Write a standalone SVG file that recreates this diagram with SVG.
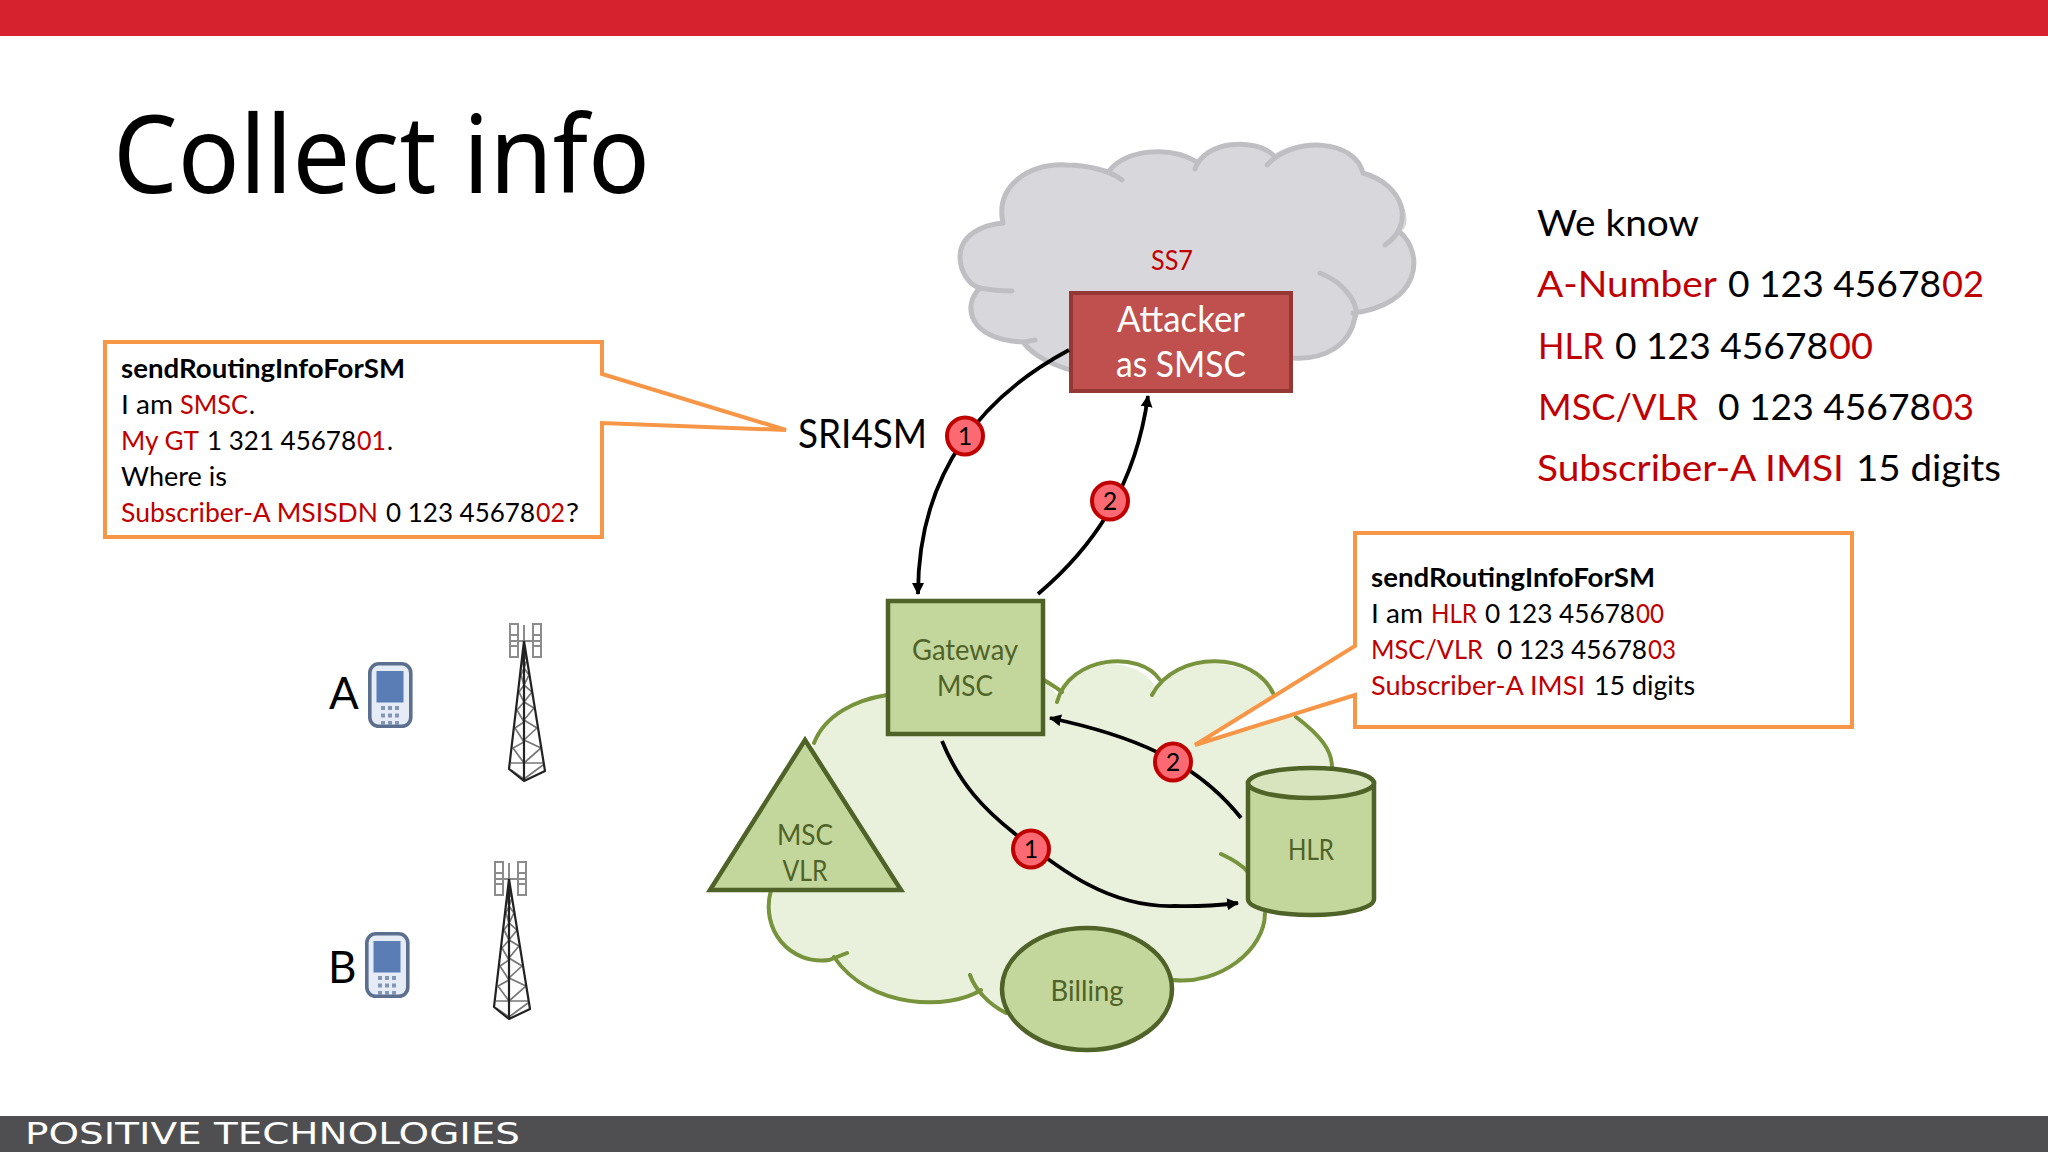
<svg xmlns="http://www.w3.org/2000/svg" xmlns:xlink="http://www.w3.org/1999/xlink" width="2048" height="1152" viewBox="0 0 2048 1152">
<style>
text{font-family:"Lato","Open Sans",sans-serif;fill:#000;white-space:pre}
.r{fill:#c00000}
.box{font-size:26.500px}
.know{font-size:37.500px}
.g{font-size:29px;fill:#4f6228;text-anchor:middle}
.glob{fill:#e9f0dc;stroke:none}
.gl{fill:none;stroke:#77933c;stroke-width:4;stroke-linecap:round}
.grl{fill:none;stroke:#bfbfc3;stroke-width:5;stroke-linecap:round}
.shape{fill:#c3d69b;stroke:#4f6228;stroke-width:4.500}
.top{fill:#d7e4bd;stroke:#4f6228;stroke-width:4.500}
.call{fill:#fff;stroke:#f79646;stroke-width:4;stroke-linejoin:miter}
.a{fill:none;stroke:#000;stroke-width:3.800}
.bd{fill:#fb6a72;stroke:#c00000;stroke-width:4}
.bt{font-size:25px;text-anchor:middle}
.tl{fill:none;stroke:#222;stroke-width:2.200;stroke-linejoin:round}
.tg{fill:none;stroke:#777;stroke-width:1.700}
.ant{fill:none;stroke:#8c8c8c;stroke-width:2}
</style>
<defs>
<marker id="ah" markerUnits="userSpaceOnUse" markerWidth="14" markerHeight="14" refX="11" refY="6" orient="auto"><path d="M0 0L12 6L0 12Z" fill="#000"/></marker>
<g id="phone">
<rect x="1.800" y="1.800" width="41" height="62.500" rx="9" fill="#e5ecf6" stroke="#5d6f8e" stroke-width="3.600"/>
<rect x="8.500" y="9" width="27" height="31.500" fill="#5b7db5"/>
<g fill="#8496b8"><rect x="13" y="44" width="4" height="4"/><rect x="20" y="44" width="4" height="4"/><rect x="27" y="44" width="4" height="4"/><rect x="13" y="51.500" width="4" height="4"/><rect x="20" y="51.500" width="4" height="4"/><rect x="27" y="51.500" width="4" height="4"/><rect x="13" y="59" width="4" height="4"/><rect x="20" y="59" width="4" height="4"/><rect x="27" y="59" width="4" height="4"/></g>
</g>
<g id="tower">
<path class="ant" d="M510 624h8v33h-8zM510 635h8M510 646h8M533 624h8v33h-8zM533 635h8M533 646h8M510 641h31M524 625v16"/>
<path class="tg" d="M524 655L527 660L524 668L529 675L524 685L532 692L524 702L534 708L524 720L537 728L524 740L541 748L524 763H543M524 779L543 765M522 660L524 668L521 675L524 685L519 692L524 702L517 710L524 722L515 728L524 742L513 748L524 763H511M511 770L524 779"/>
<path class="tl" d="M524 641L509 769L524 781L545 771L524 641M524 641V781"/>
</g>
</defs>
<rect width="2048" height="1152" fill="#fff"/>
<rect id="top-bar" width="2048" height="36" fill="#d6212e"/>
<g id="footer"><rect y="1116" width="2048" height="36" fill="#4f4f51"/><text x="25" y="1144" font-size="31" style="font-family:'DejaVu Sans',sans-serif;fill:#fff" textLength="495" lengthAdjust="spacingAndGlyphs">POSITIVE TECHNOLOGIES</text></g>
<text id="title" x="113" y="193" font-size="107" style="font-family:'Noto Sans',sans-serif" textLength="537" lengthAdjust="spacingAndGlyphs">Collect info</text>

<g id="ss7-cloud">
<path d="M1003 223C995 185 1030 163 1067 165C1085 165 1100 168 1110 170C1125 150 1170 145 1197 162C1210 140 1255 138 1273 155C1300 135 1355 140 1363 173C1405 185 1415 225 1400 232C1425 255 1420 305 1353 313C1355 345 1325 360 1293 358L1070 370C1050 365 1030 355 1023 342C968 340 962 305 980 288C968 285 960 270 960 257C960 235 982 225 1003 223Z" fill="#d8d8dc"/>
<path class="grl" d="M1003 223C995 185 1030 163 1067 165C1085 165 1110 170 1122 180M1110 170C1125 150 1170 145 1197 162M1195 169C1205 140 1255 138 1273 155M1267 165C1295 135 1355 140 1363 173C1405 185 1415 225 1385 245M1400 232C1425 255 1420 305 1353 313M1320 273C1350 285 1360 310 1355 317C1350 345 1325 360 1293 358M1012 291C1000 291 990 290 980 288C968 285 960 270 960 257C960 235 982 225 1003 223M980 288C962 305 968 340 1023 342C1027 342 1032 340 1035 340M1023 342C1035 358 1055 365 1070 370"/>
<text x="1172" y="270" font-size="27" class="r" text-anchor="middle" textLength="42" lengthAdjust="spacingAndGlyphs">SS7</text>
</g>

<g id="msc-cloud">
<path class="glob" d="M814 743C825 715 855 700 887 695L1044 680L1057 695C1070 655 1140 655 1156 688C1180 650 1260 660 1274 695L1296 717C1320 735 1332 750 1332 767L1265 913C1265 950 1220 985 1173 980L1006 1013L981 990C950 1010 870 1010 834 957C790 965 760 930 771 890Z"/>
<path class="gl" d="M814 743C825 715 855 700 887 695M1044 680C1052 685 1060 690 1062 692M1057 702C1070 655 1140 650 1160 680M1152 695C1175 650 1255 650 1274 695M1296 717C1320 735 1332 750 1332 767M1221 854C1232 859 1242 865 1248 872M1265 913C1265 950 1220 985 1173 980M970 975C975 990 990 1005 1006 1013M981 990C950 1010 870 1010 834 957M847 953L829 960C790 965 760 930 771 890"/>
</g>

<g id="attacker"><rect x="1071" y="293" width="220" height="98" fill="#c0504d" stroke="#953735" stroke-width="4"/><text x="1181" y="332" font-size="36" text-anchor="middle" style="fill:#fff" textLength="128" lengthAdjust="spacingAndGlyphs">Attacker</text><text x="1181" y="377" font-size="36" text-anchor="middle" style="fill:#fff" textLength="130" lengthAdjust="spacingAndGlyphs">as SMSC</text></g>
<g id="gateway-msc"><rect x="888" y="601" width="155" height="133" class="shape"/><text x="965" y="660" class="g" textLength="106" lengthAdjust="spacingAndGlyphs">Gateway</text><text x="965" y="696" class="g" textLength="56" lengthAdjust="spacingAndGlyphs">MSC</text></g>
<g id="msc-vlr"><path d="M805 740L710 890H901Z" class="shape"/><text x="805" y="845" class="g" textLength="56" lengthAdjust="spacingAndGlyphs">MSC</text><text x="805" y="881" class="g" textLength="45" lengthAdjust="spacingAndGlyphs">VLR</text></g>
<g id="hlr"><path d="M1248 783V899C1248 908 1276 915 1311 915S1374 908 1374 899V783Z" class="shape"/><ellipse cx="1311" cy="783" rx="63" ry="15" class="top"/><text x="1311" y="860" class="g" textLength="46" lengthAdjust="spacingAndGlyphs">HLR</text></g>
<g id="billing"><ellipse cx="1087" cy="989" rx="85" ry="61" class="shape"/><text x="1087" y="1001" class="g" textLength="73" lengthAdjust="spacingAndGlyphs">Billing</text></g>

<g id="callout-left"><path class="call" d="M105 342H602V374L786 430L602 423V537H105Z"/>
<text x="121" y="378" class="box" font-weight="700" textLength="284" lengthAdjust="spacingAndGlyphs">sendRoutingInfoForSM</text>
<text x="121" y="414" class="box" textLength="52" lengthAdjust="spacingAndGlyphs">I am</text><text x="180" y="414" class="box r" textLength="68" lengthAdjust="spacingAndGlyphs">SMSC</text><text x="249" y="414" class="box" textLength="6" lengthAdjust="spacingAndGlyphs">.</text>
<text x="121" y="450" class="box r" textLength="78" lengthAdjust="spacingAndGlyphs">My GT</text><text x="207" y="450" class="box" textLength="149" lengthAdjust="spacingAndGlyphs">1 321 45678</text><text x="357" y="450" class="box r" textLength="29" lengthAdjust="spacingAndGlyphs">01</text><text x="387" y="450" class="box" textLength="6" lengthAdjust="spacingAndGlyphs">.</text>
<text x="121" y="486" class="box" textLength="106" lengthAdjust="spacingAndGlyphs">Where is</text>
<text x="121" y="522" class="box r" textLength="257" lengthAdjust="spacingAndGlyphs">Subscriber-A MSISDN</text><text x="386" y="522" class="box" textLength="149" lengthAdjust="spacingAndGlyphs">0 123 45678</text><text x="536" y="522" class="box r" textLength="29" lengthAdjust="spacingAndGlyphs">02</text><text x="566" y="522" class="box" textLength="13" lengthAdjust="spacingAndGlyphs">?</text>
</g>
<text id="sri4sm" x="798" y="448" font-size="40" textLength="129" lengthAdjust="spacingAndGlyphs">SRI4SM</text>

<g id="callout-right"><path class="call" d="M1355 533H1852V727H1355V695L1195 745L1355 646Z"/>
<text x="1371" y="587" class="box" font-weight="700" textLength="284" lengthAdjust="spacingAndGlyphs">sendRoutingInfoForSM</text>
<text x="1371" y="623" class="box" textLength="52" lengthAdjust="spacingAndGlyphs">I am</text><text x="1431" y="623" class="box r" textLength="46" lengthAdjust="spacingAndGlyphs">HLR</text><text x="1485" y="623" class="box" textLength="150" lengthAdjust="spacingAndGlyphs">0 123 45678</text><text x="1636" y="623" class="box r" textLength="28" lengthAdjust="spacingAndGlyphs">00</text>
<text x="1371" y="659" class="box r" textLength="112" lengthAdjust="spacingAndGlyphs">MSC/VLR</text><text x="1497" y="659" class="box" textLength="150" lengthAdjust="spacingAndGlyphs">0 123 45678</text><text x="1648" y="659" class="box r" textLength="28" lengthAdjust="spacingAndGlyphs">03</text>
<text x="1371" y="695" class="box r" textLength="214" lengthAdjust="spacingAndGlyphs">Subscriber-A IMSI</text><text x="1594" y="695" class="box" textLength="101" lengthAdjust="spacingAndGlyphs">15 digits</text>
</g>

<g id="connectors">
<path class="a" marker-end="url(#ah)" d="M1069 350C985 395 918 470 918 594"/>
<path class="a" marker-end="url(#ah)" d="M1038 594C1090 550 1135 490 1148 396"/>
<path class="a" marker-end="url(#ah)" d="M942 741C960 785 985 810 1014 833C1060 870 1110 908 1175 906C1200 907 1220 905 1238 903"/>
<path class="a" marker-end="url(#ah)" d="M1241 818C1195 760 1130 735 1050 718"/>
</g>
<g id="badges">
<g id="badge-1a"><ellipse cx="965" cy="436" rx="18" ry="18.500" class="bd"/><text x="965" y="445" class="bt">1</text></g>
<g id="badge-2a"><ellipse cx="1110" cy="501" rx="18" ry="18.500" class="bd"/><text x="1110" y="510" class="bt">2</text></g>
<g id="badge-1b"><ellipse cx="1031" cy="849" rx="18" ry="18.500" class="bd"/><text x="1031" y="858" class="bt">1</text></g>
<g id="badge-2b"><ellipse cx="1173" cy="762" rx="18" ry="18.500" class="bd"/><text x="1173" y="771" class="bt">2</text></g>
</g>

<g id="we-know">
<text x="1537" y="236" class="know" textLength="162" lengthAdjust="spacingAndGlyphs">We know</text>
<text x="1537" y="297" class="know r" textLength="180" lengthAdjust="spacingAndGlyphs">A-Number</text><text x="1728" y="297" class="know" textLength="213" lengthAdjust="spacingAndGlyphs">0 123 45678</text><text x="1942" y="297" class="know r" textLength="42" lengthAdjust="spacingAndGlyphs">02</text>
<text x="1538" y="359" class="know r" textLength="66" lengthAdjust="spacingAndGlyphs">HLR</text><text x="1615" y="359" class="know" textLength="213" lengthAdjust="spacingAndGlyphs">0 123 45678</text><text x="1829" y="359" class="know r" textLength="44" lengthAdjust="spacingAndGlyphs">00</text>
<text x="1538" y="420" class="know r" textLength="160" lengthAdjust="spacingAndGlyphs">MSC/VLR</text><text x="1718" y="420" class="know" textLength="213" lengthAdjust="spacingAndGlyphs">0 123 45678</text><text x="1932" y="420" class="know r" textLength="42" lengthAdjust="spacingAndGlyphs">03</text>
<text x="1537" y="481" class="know r" textLength="307" lengthAdjust="spacingAndGlyphs">Subscriber-A IMSI</text><text x="1856" y="481" class="know" textLength="145" lengthAdjust="spacingAndGlyphs">15 digits</text>
</g>

<g id="subscriber-a"><text x="329" y="709" font-size="44">A</text><use xlink:href="#phone" href="#phone" x="368" y="662"/><use href="#tower" xlink:href="#tower"/></g>
<g id="subscriber-b"><text x="328" y="983" font-size="44">B</text><use xlink:href="#phone" href="#phone" x="365" y="932"/><use href="#tower" xlink:href="#tower" x="-15" y="238"/></g>
</svg>
